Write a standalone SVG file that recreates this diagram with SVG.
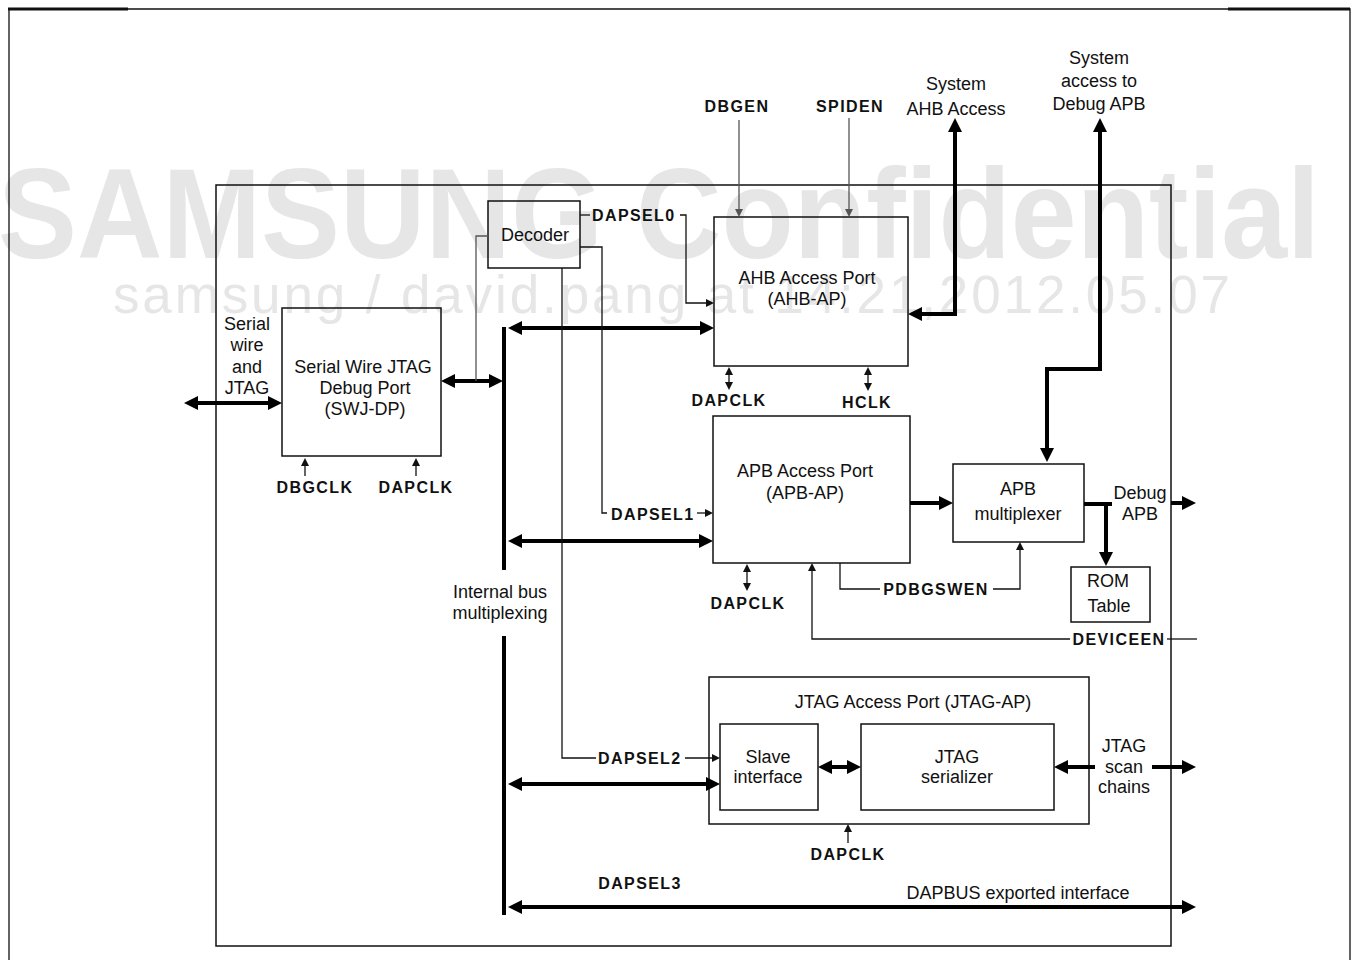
<svg xmlns="http://www.w3.org/2000/svg" width="1355" height="960" viewBox="0 0 1355 960">
<style>
text{font-family:"Liberation Sans",Arial,sans-serif;fill:#111}
.t{font-size:18px;text-anchor:middle}
.b{font-size:16px;font-weight:bold;letter-spacing:1.4px}
.bc{font-size:16px;font-weight:bold;letter-spacing:1.4px;text-anchor:middle}
.box{fill:none;stroke:#111;stroke-width:1.5}
.thick{fill:none;stroke:#000;stroke-width:4}
.thin{fill:none;stroke:#111;stroke-width:1.3}
.gray{fill:none;stroke:#555;stroke-width:1.3}
.wm{fill:#e6e6e6;font-family:"Liberation Sans",Arial,sans-serif}
</style>
<defs>
<marker id="big" viewBox="0 0 14 14" refX="8" refY="7" markerWidth="14" markerHeight="14" markerUnits="userSpaceOnUse" orient="auto-start-reverse"><path d="M0,0 L14,7 L0,14 z" fill="#000"/></marker>
<marker id="sm" viewBox="0 0 8 8" refX="6" refY="4" markerWidth="8" markerHeight="8" markerUnits="userSpaceOnUse" orient="auto-start-reverse"><path d="M0,0 L8,4 L0,8 z" fill="#111"/></marker>
<marker id="smg" viewBox="0 0 8 8" refX="6" refY="4" markerWidth="8" markerHeight="8" markerUnits="userSpaceOnUse" orient="auto-start-reverse"><path d="M0,0 L8,4 L0,8 z" fill="#555"/></marker>
</defs>
<rect width="1355" height="960" fill="#fff"/>
<g id="watermark">
<text class="wm" x="-2" y="258" font-size="128" font-weight="bold" textLength="1322" lengthAdjust="spacingAndGlyphs">SAMSUNG Confidential</text>
<text class="wm" x="113" y="313" font-size="53" textLength="1117" lengthAdjust="spacing">samsung / david.pang at 14:21,2012.05.07</text>
</g>
<g id="page-frame">
<path d="M9,960 V9 H1350 V960" fill="none" stroke="#111" stroke-width="1.3"/>
<path d="M8,9 H128 M1228,9 H1350" stroke="#111" stroke-width="3"/>
</g>
<g id="dap-boundary"><rect class="box" x="216" y="185" width="955" height="761"/></g>
<g id="swj-dp">
<rect class="box" x="282" y="308" width="159" height="148"/>
<text class="t" x="363" y="373">Serial Wire JTAG</text>
<text class="t" x="365" y="394">Debug Port</text>
<text class="t" x="365" y="415">(SWJ-DP)</text>
</g>
<g id="decoder">
<rect class="box" x="488" y="201" width="92" height="67"/>
<text class="t" x="535" y="241">Decoder</text>
</g>
<g id="ahb-ap">
<rect class="box" x="714" y="217" width="194" height="149"/>
<text class="t" x="807" y="284">AHB Access Port</text>
<text class="t" x="807" y="305">(AHB-AP)</text>
</g>
<g id="apb-ap">
<rect class="box" x="713" y="416" width="197" height="147"/>
<text class="t" x="805" y="477">APB Access Port</text>
<text class="t" x="805" y="499">(APB-AP)</text>
</g>
<g id="apb-mux">
<rect class="box" x="953" y="464" width="131" height="78"/>
<text class="t" x="1018" y="495">APB</text>
<text class="t" x="1018" y="520">multiplexer</text>
</g>
<g id="rom-table">
<rect class="box" x="1071" y="567" width="79" height="55"/>
<text class="t" x="1108" y="587">ROM</text>
<text class="t" x="1109" y="612">Table</text>
</g>
<g id="jtag-ap">
<rect class="box" x="709" y="677" width="380" height="147"/>
<text class="t" x="913" y="708">JTAG Access Port (JTAG-AP)</text>
</g>
<g id="slave-interface">
<rect class="box" x="720" y="724" width="98" height="86"/>
<text class="t" x="768" y="763">Slave</text>
<text class="t" x="768" y="783">interface</text>
</g>
<g id="jtag-serializer">
<rect class="box" x="861" y="724" width="193" height="86"/>
<text class="t" x="957" y="763">JTAG</text>
<text class="t" x="957" y="783">serializer</text>
</g>
<g id="labels">
<text class="t" x="247" y="330">Serial</text>
<text class="t" x="247" y="351">wire</text>
<text class="t" x="247" y="373">and</text>
<text class="t" x="247" y="394">JTAG</text>
<text class="t" x="956" y="90">System</text>
<text class="t" x="956" y="115">AHB Access</text>
<text class="t" x="1099" y="64">System</text>
<text class="t" x="1099" y="87">access to</text>
<text class="t" x="1099" y="110">Debug APB</text>
<text class="bc" x="737" y="112">DBGEN</text>
<text class="bc" x="850" y="112">SPIDEN</text>
<text class="b" x="592" y="221">DAPSEL0</text>
<text class="bc" x="729" y="406">DAPCLK</text>
<text class="bc" x="867" y="408">HCLK</text>
<text class="bc" x="315" y="493">DBGCLK</text>
<text class="bc" x="416" y="493">DAPCLK</text>
<text class="b" x="611" y="520">DAPSEL1</text>
<text class="t" x="1140" y="499">Debug</text>
<text class="t" x="1140" y="520">APB</text>
<text class="t" x="500" y="598">Internal bus</text>
<text class="t" x="500" y="619">multiplexing</text>
<text class="bc" x="936" y="595">PDBGSWEN</text>
<text class="bc" x="748" y="609">DAPCLK</text>
<text class="bc" x="1119" y="645">DEVICEEN</text>
<text class="b" x="598" y="764">DAPSEL2</text>
<text class="t" x="1124" y="752">JTAG</text>
<text class="t" x="1124" y="773">scan</text>
<text class="t" x="1124" y="793">chains</text>
<text class="bc" x="848" y="860">DAPCLK</text>
<text class="bc" x="640" y="889">DAPSEL3</text>
<text class="t" x="1018" y="899">DAPBUS exported interface</text>
</g>
<g id="connectors">
<path class="thick" d="M504,327 V570 M504,636 V915"/>
<path class="thick" d="M190,403 H276" marker-start="url(#big)" marker-end="url(#big)"/>
<path class="thick" d="M447,381 H497" marker-start="url(#big)" marker-end="url(#big)"/>
<path class="thick" d="M514,328 H708" marker-start="url(#big)" marker-end="url(#big)"/>
<path class="thick" d="M514,541 H707" marker-start="url(#big)" marker-end="url(#big)"/>
<path class="thick" d="M514,784 H714" marker-start="url(#big)" marker-end="url(#big)"/>
<path class="thick" d="M514,907 H1190" marker-start="url(#big)" marker-end="url(#big)"/>
<path class="thick" d="M914,314 H955 V124" marker-start="url(#big)" marker-end="url(#big)"/>
<path class="thick" d="M1047,456 V369 H1100 V124" marker-start="url(#big)" marker-end="url(#big)"/>
<path class="thick" d="M910,503 H947" marker-end="url(#big)"/>
<path class="thick" d="M1084,504 H1112 M1106,504 V560" marker-end="url(#big)"/>
<path class="thick" d="M1171,503 H1190" marker-end="url(#big)"/>
<path class="thick" d="M1095,767 H1060" marker-end="url(#big)"/>
<path class="thick" d="M1152,767 H1190" marker-end="url(#big)"/>
<path class="thick" d="M824,767 H855" marker-start="url(#big)" marker-end="url(#big)"/>
<path class="gray" stroke-width="2" d="M476,381 V236 H488"/>
<path class="gray" d="M739,120 V215" marker-end="url(#smg)"/>
<path class="gray" d="M849,118 V215" marker-end="url(#smg)"/>
<path class="thin" d="M580,215 H590"/>
<path class="thin" d="M680,215 H686 V303 H712" marker-end="url(#sm)"/>
<path class="thin" d="M580,247 H602 V513 H607"/>
<path class="thin" d="M697,513 H711" marker-end="url(#sm)"/>
<path class="thin" d="M562,268 V758 H596"/>
<path class="thin" d="M685,758 H718" marker-end="url(#sm)"/>
<path class="thin" d="M305,476 V460" marker-end="url(#sm)"/>
<path class="thin" d="M416,476 V460" marker-end="url(#sm)"/>
<path class="thin" d="M729,369 V388" marker-start="url(#sm)" marker-end="url(#sm)"/>
<path class="thin" d="M868,369 V389" marker-start="url(#sm)" marker-end="url(#sm)"/>
<path class="thin" d="M747,566 V589" marker-start="url(#sm)" marker-end="url(#sm)"/>
<path class="thin" d="M840,563 V589 H880"/>
<path class="thin" d="M993,589 H1020 V544" marker-end="url(#sm)"/>
<path class="thin" d="M1197,639 H1167"/>
<path class="thin" d="M1070,639 H812 V565" marker-end="url(#sm)"/>
<path class="thin" d="M848,843 V826" marker-end="url(#sm)"/>
</g>
</svg>
